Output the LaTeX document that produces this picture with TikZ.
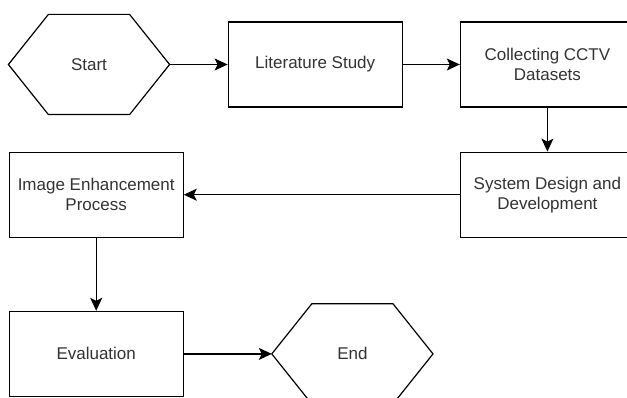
\documentclass[tikz,border=0pt]{standalone}
\usepackage{fontspec}
\setmainfont{Liberation Sans}
\usetikzlibrary{shapes,arrows.meta,positioning}

\begin{document}
\begin{tikzpicture}[node distance=58pt, line width=1.2pt, font=\fontsize{17}{20}\selectfont, text=black!80]
    % Define styles
    \tikzstyle{block} = [rectangle, draw, align=center, minimum width=174pt, minimum height=85pt, inner sep=2pt]
    \tikzstyle{hexa} = [rectangle, align=center, minimum width=160pt, minimum height=99pt]
    \tikzstyle{line} = [draw, -{Stealth[length=13pt,width=12pt,inset=3pt]}]

    \useasboundingbox (0,0) rectangle (627pt,-398pt);

    % Top row
    \node [hexa] (start) at (89pt,-64.5pt) {Start};
    \node [block, right=58pt of start] (litstudy) {Literature Study};
    \node [block, right=57pt of litstudy] (cctv) {Collecting CCTV\\Datasets};

    % Middle row
    \node [block, below=44pt of cctv] (sysdesign) {System Design and\\Development};
    \node [block, left=276pt of sysdesign] (enhance) {Image Enhancement\\Process};

    % Bottom row
    \node [block, below=73pt of enhance] (evaluation) {Evaluation};
    \node [hexa, right=88pt of evaluation] (finish) {End};

    % Hexagon outlines
    \foreach \n in {start,finish}
        \draw (\n.west) -- ([xshift=40pt]\n.north west) -- ([xshift=-40pt]\n.north east)
            -- (\n.east) -- ([xshift=-40pt]\n.south east) -- ([xshift=40pt]\n.south west) -- cycle;

    % Connect components
    \path [line] (start) -- (litstudy);
    \path [line] (litstudy) -- (cctv);
    \path [line] (cctv) -- (sysdesign);
    \path [line] (sysdesign) -- (enhance);
    \path [line] (enhance) -- (evaluation);
    \path [line] (evaluation) -- (finish);
\end{tikzpicture}
\end{document}
